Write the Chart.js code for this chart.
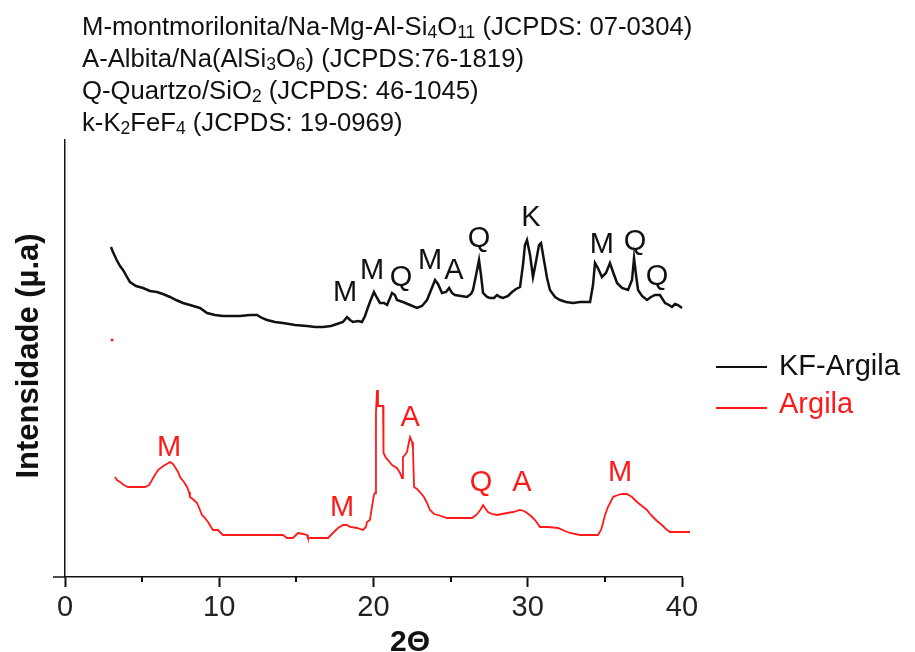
<!DOCTYPE html>
<html>
<head>
<meta charset="utf-8">
<script src="https://cdn.jsdelivr.net/npm/chart.js@4.4.1/dist/chart.umd.min.js"></script>
<style>
  html, body { margin: 0; padding: 0; background: #fff; }
  #wrap { position: relative; width: 915px; height: 652px; overflow: hidden; font-family: "Liberation Sans", Arial, sans-serif; color: #111; }
  #chart { position: absolute; left: 0; top: 0; }
  .hdr { position: absolute; left: 82px; top: 10px; font-size: 25.7px; line-height: 32px; white-space: nowrap; }
  .hdr sub { font-size: 0.68em; vertical-align: -0.18em; line-height: 0; }
  .ytitle { position: absolute; left: -122px; top: 338px; width: 300px; line-height: 36px; text-align: center;
            font-size: 31px; font-weight: bold; transform: rotate(-90deg); white-space: nowrap; }
  .xtitle { position: absolute; left: 310px; top: 623px; width: 200px; text-align: center; line-height: 36px;
            font-size: 30px; font-weight: bold; }
  .lg-line { position: absolute; left: 716px; width: 51px; height: 2px; }
  .lg-text { position: absolute; left: 779px; font-size: 29px; line-height: 34px; white-space: nowrap; }
</style>
</head>
<body>
<div id="wrap">
  <canvas id="chart" width="915" height="652"></canvas>
  <div class="hdr">
    M-montmorilonita/Na-Mg-Al-Si<sub>4</sub>O<sub>11</sub> (JCPDS: 07-0304)<br>
    A-Albita/Na(AlSi<sub>3</sub>O<sub>6</sub>) (JCPDS:76-1819)<br>
    Q-Quartzo/SiO<sub>2</sub> (JCPDS: 46-1045)<br>
    k-K<sub>2</sub>FeF<sub>4</sub> (JCPDS: 19-0969)
  </div>
  <div class="ytitle">Intensidade (µ.a)</div>
  <div class="xtitle">2Θ</div>
  <div class="lg-line" style="top:366px;background:#111;"></div>
  <div class="lg-text" style="top:348px;color:#111;">KF-Argila</div>
  <div class="lg-line" style="top:407px;background:#ff1a1a;"></div>
  <div class="lg-text" style="top:386px;color:#ff1a1a;">Argila</div>
</div>
<script>
// --- DATA (2θ in degrees, intensity in arbitrary units) ---
const kfTheta = [2.98, 3.11, 3.35, 3.57, 3.76, 4.02, 4.21, 4.60, 5.06, 5.51, 5.96, 6.35, 6.81, 7.20, 7.65, 8.10, 8.75, 9.21, 9.72, 10.24,
  10.76, 11.35, 12.0, 12.45, 12.77, 13.10, 13.61, 14.13, 14.91, 15.69, 16.21, 16.73, 17.24, 17.63, 18.02, 18.28, 18.48, 18.67, 19.0, 19.25,
  19.45, 19.58, 19.77, 20.03, 20.23, 20.42, 20.68, 20.88, 21.07, 21.20, 21.39, 21.52, 21.91, 22.37, 22.82, 23.14, 23.47, 23.73, 23.99, 24.18,
  24.44, 24.70, 24.90, 25.09, 25.28, 25.67, 26.06, 26.32, 26.45, 26.65, 26.84, 26.97, 27.10, 27.36, 27.55, 27.81, 28.01, 28.2, 28.40, 28.72,
  28.98, 29.24, 29.50, 29.69, 29.82, 29.95, 30.15, 30.34, 30.53, 30.73, 30.86, 31.05, 31.25, 31.44, 31.77, 32.09, 32.48, 32.93, 33.39, 34.04,
  34.23, 34.36, 34.55, 34.81, 35.07, 35.33, 35.53, 35.79, 36.11, 36.50, 36.76, 36.89, 37.02, 37.15, 37.41, 37.73, 37.99, 38.25, 38.57, 38.90,
  39.16, 39.35, 39.55, 39.74, 40.0];
const kfInt = [330, 325, 317, 311, 307, 300, 295, 291, 289, 286, 285, 283, 280, 277, 274, 272, 269, 264, 262, 261,
  261, 261, 262, 262, 259, 257, 255, 254, 252, 251, 250, 250, 251, 253, 255, 260, 257, 255, 256, 255,
  261, 267, 275, 285, 279, 274, 274, 272, 279, 284, 282, 277, 275, 272, 269, 271, 277, 287, 297, 293,
  284, 285, 289, 284, 282, 281, 280, 283, 287, 302, 317, 302, 284, 280, 279, 279, 282, 280, 279, 281,
  285, 288, 290, 312, 332, 337, 322, 300, 315, 332, 334, 317, 299, 287, 280, 277, 275, 274, 275, 275,
  292, 314, 309, 300, 304, 314, 305, 294, 289, 287, 297, 319, 302, 287, 281, 277, 280, 282, 282, 274,
  272, 270, 273, 272, 269];

const argTheta = [3.24, 3.37, 3.57, 3.82, 4.08, 4.60, 5.19, 5.45, 5.64, 5.83, 6.03, 6.29, 6.48, 6.81, 7.00, 7.13, 7.33, 7.46, 7.71, 7.91,
  8.04, 8.10, 8.36, 8.56, 8.75, 8.88, 9.08, 9.27, 9.47, 9.59, 9.92, 10.24, 14.13, 14.39, 14.78, 14.98, 15.11, 15.43, 15.69, 15.75,
  17.05, 17.37, 17.70, 18.02, 18.28, 18.48, 18.93, 19.32, 19.51, 19.58, 19.77, 19.90, 20.03, 20.10, 20.16, 20.23, 20.29, 20.62, 20.65, 20.81,
  20.94, 21.20, 21.52, 21.72, 21.85, 21.91, 22.04, 22.17, 22.30, 22.37, 22.50, 22.56, 22.63, 22.82, 23.01, 23.27, 23.47, 23.66, 23.92, 24.18,
  24.76, 25.61, 26.39, 26.65, 26.77, 26.97, 27.10, 27.23, 27.42, 27.68, 28.01, 28.33, 28.66, 29.04, 29.50, 29.76, 29.95, 30.21, 30.47, 30.66,
  30.79, 31.31, 31.96, 32.41, 32.74, 33.39, 34.04, 34.55, 34.75, 34.88, 35.01, 35.20, 35.40, 35.53, 35.85, 36.11, 36.43, 36.76, 37.08, 37.41,
  37.73, 37.93, 38.12, 38.38, 38.70, 38.96, 39.22, 39.87, 40.52];
const argInt = [100, 97, 95, 92, 90, 90, 90, 92, 97, 102, 107, 110, 112, 115, 113, 110, 105, 100, 95, 90,
  85, 80, 77, 74, 67, 62, 59, 55, 50, 47, 47, 42, 42, 39, 39, 42, 44, 43, 42, 39,
  39, 44, 49, 52, 52, 50, 49, 47, 50, 55, 57, 70, 82, 84, 165, 187, 171, 171, 124, 119,
  117, 112, 109, 104, 99, 120, 122, 125, 135, 140, 135, 127, 90, 88, 85, 80, 74, 67, 63, 62,
  59, 59, 59, 62, 64, 68, 72, 69, 65, 63, 62, 63, 64, 65, 67, 66, 64, 61, 57, 53,
  50, 50, 49, 46, 44, 42, 42, 42, 47, 54, 62, 70, 76, 80, 82, 83, 83, 80, 75, 71,
  67, 63, 60, 56, 52, 48, 45, 45, 45];

const strayTheta = [3.05];
const strayInt = [237];

const kfPeakLabels = ['M', 'M', 'Q', 'M', 'A', 'Q', 'K', 'M', 'Q', 'Q'];
const kfPeakTheta = [18.15, 19.90, 21.78, 23.66, 25.22, 26.84, 30.21, 34.81, 36.95, 38.38];
const kfPeakInt = [286, 308, 301, 318, 308, 340, 361, 334, 337, 302];

const argPeakLabels = ['M', 'M', 'A', 'Q', 'A', 'M'];
const argPeakTheta = [6.74, 17.96, 22.37, 26.97, 29.63, 35.98];
const argPeakInt = [131, 71, 161, 96, 96, 106];

const xTicks = [0, 10, 20, 30, 40];
const xMinorTicks = [5, 15, 25, 35];

const toXY = (xs, ys) => xs.map((x, i) => ({ x: x, y: ys[i] }));

// --- PEAK LABELS + MINOR TICKS ---
const extrasPlugin = {
  id: 'extras',
  afterDraw(chart) {
    const ctx = chart.ctx;
    const xs = chart.scales.x, ys = chart.scales.y;
    ctx.save();
    // minor ticks + little y-axis stub at origin
    ctx.strokeStyle = '#111';
    ctx.lineWidth = 2;
    xMinorTicks.forEach(v => {
      const px = Math.round(xs.getPixelForValue(v));
      ctx.beginPath();
      ctx.moveTo(px, ys.bottom);
      ctx.lineTo(px, ys.bottom + 5);
      ctx.stroke();
    });
    ctx.lineWidth = 1.5;
    ctx.beginPath();
    ctx.moveTo(xs.left - 12, ys.bottom);
    ctx.lineTo(xs.left, ys.bottom);
    ctx.stroke();

    const size = 29;
    ctx.font = size + 'px "Liberation Sans", Arial, sans-serif';
    ctx.textAlign = 'center';
    ctx.textBaseline = 'alphabetic';
    ctx.fillStyle = '#111';
    kfPeakLabels.forEach((t, i) => {
      ctx.fillText(t, xs.getPixelForValue(kfPeakTheta[i]), ys.getPixelForValue(kfPeakInt[i]) + size * 0.358);
    });
    ctx.fillStyle = '#ff1a1a';
    argPeakLabels.forEach((t, i) => {
      ctx.fillText(t, xs.getPixelForValue(argPeakTheta[i]), ys.getPixelForValue(argPeakInt[i]) + size * 0.358);
    });
    ctx.restore();
  }
};

new Chart(document.getElementById('chart'), {
  type: 'line',
  data: {
    datasets: [
      { label: 'KF-Argila', data: toXY(kfTheta, kfInt), borderColor: '#111', borderWidth: 2.5,
        pointRadius: 0, tension: 0, clip: false },
      { label: 'Argila', data: toXY(argTheta, argInt), borderColor: '#ff1a1a', borderWidth: 1.8,
        pointRadius: 0, tension: 0, clip: false },
      { label: 'stray', data: toXY(strayTheta, strayInt), showLine: false, pointRadius: 1.5,
        pointBackgroundColor: '#ff1a1a', pointBorderWidth: 0, clip: false }
    ]
  },
  options: {
    responsive: false,
    animation: false,
    devicePixelRatio: 1,
    layout: { padding: { left: 0, right: 233, top: 140, bottom: 0 } },
    plugins: { legend: { display: false }, tooltip: { enabled: false } },
    scales: {
      x: {
        type: 'linear', min: 0, max: 40,
        afterFit: s => { s.height = 75; },
        afterBuildTicks: s => { s.ticks = xTicks.map(v => ({ value: v })); },
        ticks: { color: '#222', padding: 4, maxRotation: 0,
                 font: { family: '"Liberation Sans", Arial, sans-serif', size: 29 } },
        grid: { drawOnChartArea: false, tickLength: 10, tickWidth: 2, color: '#111' },
        border: { display: true, color: '#111', width: 1.5 }
      },
      y: {
        min: 0, max: 437,
        afterFit: s => { s.width = 65; },
        ticks: { display: false },
        grid: { display: false },
        border: { display: true, color: '#111', width: 1.5 }
      }
    }
  },
  plugins: [extrasPlugin]
});
</script>
</body>
</html>
